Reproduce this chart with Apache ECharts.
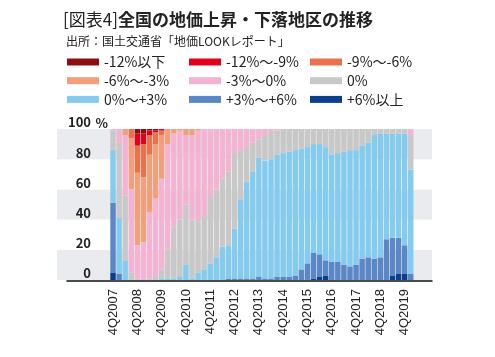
<!DOCTYPE html>
<html><head><meta charset="utf-8">
<script src="https://cdn.jsdelivr.net/npm/echarts@6/dist/echarts.min.js"></script>
<style>html,body{margin:0;padding:0;background:#fff}#c{width:495px;height:357px}</style>
</head><body><div id="c"></div>
<script>
const quarters = ['4Q2007',
 '1Q2008','2Q2008','3Q2008','4Q2008','1Q2009','2Q2009','3Q2009','4Q2009',
 '1Q2010','2Q2010','3Q2010','4Q2010','1Q2011','2Q2011','3Q2011','4Q2011',
 '1Q2012','2Q2012','3Q2012','4Q2012','1Q2013','2Q2013','3Q2013','4Q2013',
 '1Q2014','2Q2014','3Q2014','4Q2014','1Q2015','2Q2015','3Q2015','4Q2015',
 '1Q2016','2Q2016','3Q2016','4Q2016','1Q2017','2Q2017','3Q2017','4Q2017',
 '1Q2018','2Q2018','3Q2018','4Q2018','1Q2019','2Q2019','3Q2019','4Q2019',
 '1Q2020','2Q2020','3Q2020','4Q2020'];
const yTicks = [0, 20, 40, 60, 80, 100];

// shares (%) per quarter, 4Q2007 .. 1Q2020
const up6     = [5,0,0,0,0,0,0,0,0, 0,0,0,0,0,0,0,0, 0,0,0,0,0,0,0,0, 0,0,0,0,0,0,0,0, 1,2,3,0,0,0,0,0, 0,0,0,0,0,3,4,4, 0];
const up3to6  = [46,4,0,0,0,0,0,0,0, 0,0,0,0,0,0,0,0, 0,0,1,1,1,1,1,2, 1,1,2,2,2,3,7,11, 17,15,10,12,12,10,9,10, 14,15,14,15,27,25,24,19, 4];
const up0to3  = [35,37,13,0,0,0,0,0,1, 1,1,2,10,1,5,7,11, 15,22,22,33,52,64,71,79, 78,79,81,82,83,83,80,77, 72,73,75,71,72,75,77,76, 75,76,82,82,70,69,69,74, 69];
const flat    = [13,50,43,5,1,0,1,2,6, 19,34,38,40,39,34,36,44, 45,45,49,50,33,23,19,12, 17,18,16,16,15,14,13,12, 10,10,12,17,16,15,14,14, 11,9,4,3,3,3,3,3, 23];
const dn0to3  = [1,9,40,55,22,25,44,52,60, 70,62,59,46,56,60,57,45, 40,33,28,16,14,12,9,7, 4,2,1,0,0,0,0,0, 0,0,0,0,0,0,0,0, 0,0,0,0,0,0,0,0, 4];
const dn3to6  = [0,0,4,34,48,43,38,36,29, 10,3,1,4,4,1,0,0, 0,0,0,0,0,0,0,0, 0,0,0,0,0,0,0,0, 0,0,0,0,0,0,0,0, 0,0,0,0,0,0,0,0, 0];
const dn6to9  = [0,0,0,6,18,22,13,8,3, 0,0,0,0,0,0,0,0, 0,0,0,0,0,0,0,0, 0,0,0,0,0,0,0,0, 0,0,0,0,0,0,0,0, 0,0,0,0,0,0,0,0, 0];
const dn9to12 = [0,0,0,0,8,7,3,1,1, 0,0,0,0,0,0,0,0, 0,0,0,0,0,0,0,0, 0,0,0,0,0,0,0,0, 0,0,0,0,0,0,0,0, 0,0,0,0,0,0,0,0, 0];
const dn12    = [0,0,0,0,3,3,1,1,0, 0,0,0,0,0,0,0,0, 0,0,0,0,0,0,0,0, 0,0,0,0,0,0,0,0, 0,0,0,0,0,0,0,0, 0,0,0,0,0,0,0,0, 0];

const names  = ['+6%以上','+3%～+6%','0%～+3%','0%','-3%～0%','-6%～-3%','-9%～-6%','-12%～-9%','-12%以下'];
const values = [up6, up3to6, up0to3, flat, dn0to3, dn3to6, dn6to9, dn9to12, dn12];
const colors = ['#0b3e8f','#5b87c6','#84cbee','#c8c8c8','#f2b4d2','#f2a07b','#e9724c','#e3001b','#8e0d10'];

const FONT = '"Noto Sans CJK JP", "Noto Sans", sans-serif';
const TXT = '#222';

function legendCol(left, data) {
  return {
    orient: 'vertical', left: left, top: 55, padding: 0,
    itemWidth: 32, itemHeight: 7, itemGap: 4.7, icon: 'rect',
    selectedMode: false, data: data,
    textStyle: { fontSize: 14, color: TXT, fontFamily: FONT }
  };
}

const chart = echarts.init(document.getElementById('c'));
chart.setOption({
  animation: false,
  textStyle: { fontFamily: FONT },
  title: [
    { left: 63, top: 11, padding: 0,
      text: '{a|[図表4]}{b|全国の地価上昇・下落地区の推移}',
      textStyle: { rich: {
        a: { fontSize: 17, fontWeight: 'normal', color: TXT, fontFamily: FONT },
        b: { fontSize: 17, fontWeight: 'bold', color: TXT, fontFamily: FONT } } } },
    { left: 66, top: 35, padding: 0,
      text: '出所：国土交通省「地価LOOKレポート」',
      textStyle: { fontSize: 12, fontWeight: 'normal', color: TXT, fontFamily: FONT } }
  ],
  legend: [
    legendCol(67, [names[8], names[5], names[2]]),
    legendCol(189, [names[7], names[4], names[1]]),
    legendCol(310, [names[6], names[3], names[0]])
  ],
  grid: [
    { left: 57, right: 63, top: 129, bottom: 77 },
    { left: 67, right: 63, top: 129, bottom: 76 },
    { left: 110, right: 63, top: 129, bottom: 77 }
  ],
  xAxis: [
    { gridIndex: 0, type: 'value', min: 0, max: 1, show: false },
    { gridIndex: 1, type: 'value', min: 0, max: 1,
      axisLine: { show: true, onZero: false, lineStyle: { color: '#111', width: 1.5 } },
      axisTick: { show: false }, axisLabel: { show: false }, splitLine: { show: false } },
    { gridIndex: 2, type: 'category', data: quarters,
      axisLine: { show: false }, axisTick: { show: false },
      axisLabel: { rotate: 90, margin: 9, fontSize: 13, color: TXT,
        fontFamily: '"Liberation Sans", Arial, sans-serif',
        interval: (i) => i % 4 === 0 && i <= 48 } }
  ],
  yAxis: [
    { gridIndex: 0, type: 'value', min: 0, max: 100, interval: 20,
      axisLine: { show: false }, axisTick: { show: false }, axisLabel: { show: false },
      splitLine: { show: false },
      splitArea: { show: true, areaStyle: { color: ['#e9ebee', '#ffffff'] } } },
    { gridIndex: 1, type: 'value', min: 0, max: 1, show: false },
    { gridIndex: 2, type: 'value', min: yTicks[0], max: yTicks[yTicks.length - 1], interval: 20,
      name: '%', nameLocation: 'end', nameGap: 6, nameMoveOverlap: false,
      nameTextStyle: { fontSize: 13, fontWeight: 'bold', color: TXT, align: 'right',
        verticalAlign: 'middle', padding: [0, 2, 0, 0], fontFamily: FONT },
      axisLine: { show: false }, axisTick: { show: false }, splitLine: { show: false },
      axisLabel: { margin: 19, fontSize: 13, fontWeight: 'bold', color: TXT,
        verticalAlign: 'bottom', fontFamily: FONT } }
  ],
  series: values.map((d, k) => ({
    name: names[k], type: 'bar', stack: 'share',
    xAxisIndex: 2, yAxisIndex: 2,
    barCategoryGap: '10%',
    itemStyle: { color: colors[k] },
    data: d
  }))
});
</script></body></html>
